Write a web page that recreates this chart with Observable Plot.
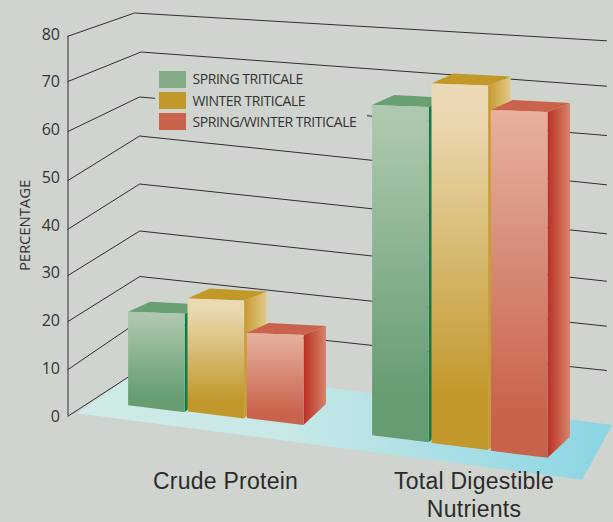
<!DOCTYPE html>
<html>
<head>
<meta charset="utf-8">
<script src="https://cdn.jsdelivr.net/npm/d3@7"></script>
<script src="https://cdn.jsdelivr.net/npm/@observablehq/plot@0.6"></script>
<style>html,body{margin:0;padding:0;background:#d0d4cf}svg{display:block}</style>
</head>
<body>
<div id="chart"></div>
<script>
// ---- data ----
const categories = ["Crude Protein", "Total Digestible Nutrients"];
const categoryLines = [["Crude Protein"], ["Total Digestible", "Nutrients"]];
const seriesNames = ["SPRING TRITICALE", "WINTER TRITICALE", "SPRING/WINTER TRITICALE"];
const crudeProtein = [20, 24.2, 18.2];
const totalDigestible = [70.7, 77, 73];
const yTicks = [0, 10, 20, 30, 40, 50, 60, 70, 80];
const axisTitle = "PERCENTAGE";

// ---- layout: pseudo-3D projection of the drawing ----
const bg = "#d0d4cf";
const Y = px => (416 - px) / 4.775;           // pixel position -> value on the Plot y scale
const frontWall = d3.scaleLinear().domain(yTicks).range([415.7,369,321,275,228.7,180,131,81,35.7]);
const backWall  = d3.scaleLinear().domain(yTicks).range([369,320,276,230.5,183.5,135.5,96.5,51.5,12.5]);
const rightWall = d3.scaleLinear().domain(yTicks).range([414,370,325.7,280.7,233.3,184.3,135,85.7,40.3]);
const backX = d3.scaleLinear().domain([0,60,70,80]).range([139.5,139,140.5,134]);
const depthFactor = 0.978;
const groupLayout = [{x0:127.6, base:404.7, dx:59.4, dy:6.4}, {x0:371.6, base:434.7, dx:59.4, dy:7.8}];
const palette = ["green","gold","red"];
const topColors = ["#68a074","#c29829","#c9634b"];
const swatchColors = ["#85ab87","#c2982d","#c9634c"];

function barFaces(value, g, s) {
  const L = groupLayout[g];
  const xl = L.x0 + s * L.dx, xr = xl + 56.6, base = L.base + s * L.dy;
  const top = Y(base) + value * depthFactor;
  const tl = top, tr = top - 2/4.775, bl = Y(base), br = Y(base + 7);
  const back = 22.5;
  return {
    front: [{x:xl,y:tl},{x:xr,y:tr},{x:xr,y:br},{x:xl,y:bl}],
    side:  [{x:xr,y:tr},{x:xr+back,y:tr+9/4.775},{x:xr+back,y:br+21/4.775},{x:xr,y:br}],
    top:   [{x:xl,y:tl},{x:xl+22,y:tl+10/4.775},{x:xr+back,y:tr+9/4.775},{x:xr,y:tr}]
  };
}

const poly = (pts, fill) => Plot.line(pts, {x:"x", y:"y", fill, stroke:"none"});
const barMarks = [crudeProtein, totalDigestible].flatMap((vals, g) =>
  vals.flatMap((v, s) => {
    const f = barFaces(v, g, s);
    return [poly(f.side, `url(#side-${palette[s]})`), poly(f.top, topColors[s]), poly(f.front, `url(#front-${palette[s]})`)];
  }));

const gridLines = yTicks.map(t => {
  const pts = [{x:67.5,y:Y(frontWall(t))},{x:backX(t),y:Y(backWall(t))}];
  if (t > 0) pts.push({x:606,y:Y(rightWall(t))});
  return Plot.line(pts, {x:"x", y:"y", stroke:"#2e2e2e", strokeWidth:1});
});

const floor = [{x:76.7,y:Y(412.7)},{x:128,y:Y(376.7)},{x:139.5,y:Y(362.5)},{x:611.7,y:Y(424.5)},{x:581.7,y:Y(479.3)}];

function defs() {
  const d = d3.create("svg:defs");
  const grad = (id, stops, horizontal) => {
    const g = d.append("linearGradient").attr("id", id)
      .attr("x1",0).attr("y1",0).attr("x2",horizontal?1:0).attr("y2",horizontal?0:1);
    stops.forEach(([o,c]) => g.append("stop").attr("offset",o).attr("stop-color",c));
  };
  grad("front-green", [[0,"#afc9b0"],[0.08,"#abc6ab"],[0.85,"#669d73"],[1,"#659c71"]]);
  grad("front-gold",  [[0,"#ebdab7"],[0.12,"#e9d6ac"],[0.85,"#c2982c"],[1,"#c2982c"]]);
  grad("front-red",   [[0,"#e6b19e"],[0.08,"#e3ab97"],[0.87,"#c9634c"],[1,"#c8634b"]]);
  grad("side-green",  [[0,"#127a48"],[1,"#127a48"]], true);
  grad("side-gold",   [[0,"#c69a2e"],[1,"#e2ca8a"]], true);
  grad("side-red",    [[0,"#bc2f27"],[0.5,"#c75b45"],[1,"#d6866d"]], true);
  grad("floor",       [[0,"#d0ebe7"],[0.4,"#c6e8e7"],[1,"#8bd5e3"]], true);
  return d.node();
}

const spacing = sp => ({render: (i,s,v,dim,c,next) => { const g = next(i,s,v,dim,c); g.style.letterSpacing = sp; return g; }});

const legendRows = seriesNames.map((name,i)=>({name, color:swatchColors[i], top:71+i*21, mid:79.5+i*21.3}));

const catLabels = [];
categoryLines.forEach((lines,g)=>lines.forEach((t,j)=>catLabels.push({t, x:[225,473.5][g], y:Y(481+j*28.5)})));

const plot = Plot.plot({
  width: 613, height: 522,
  marginLeft: 67, marginRight: 0, marginTop: 0, marginBottom: 0,
  style: {background:bg, fontFamily:"'Open Sans', sans-serif", overflow:"visible"},
  x: {domain:[67,613], range:[67,613], axis:null},
  y: {domain:[0,80], range:[416,34], axis:null},
  marks: [
    defs,
    poly(floor, "url(#floor)"),
    ...gridLines,
    Plot.ruleX([67.5], {y1:Y(frontWall(0)), y2:Y(frontWall(80)), stroke:"#2e2e2e", strokeWidth:1}),
    Plot.axisY(yTicks, {anchor:"left", tickSize:0, tickPadding:7.5, label:null, fontSize:16, fill:"#333", tickFormat:d=>d}),
    Plot.text([axisTitle], {x:24.5, y:Y(225), text:d=>d, rotate:-90, fontSize:15, fill:"#333", ...spacing("-0.15px")}),
    ...barMarks,
    // panel that masks the wall line behind the legend
    Plot.rect([0], {x1:155, x2:367, y1:Y(70), y2:Y(133), fill:bg}),
    Plot.rect(legendRows, {x1:159, x2:186, y1:d=>Y(d.top), y2:d=>Y(d.top+17), fill:"color"}),
    Plot.text(legendRows, {x:192, y:d=>Y(d.mid), text:"name", textAnchor:"start", fontSize:14, fill:"#333", ...spacing("-0.45px")}),
    Plot.text(catLabels, {x:"x", y:"y", text:"t", fontSize:23, fill:"#2b2b2b", fontFamily:"'Liberation Sans', sans-serif", ...spacing("0.25px")})
  ]
});
document.getElementById("chart").append(plot);
</script>
</body>
</html>
